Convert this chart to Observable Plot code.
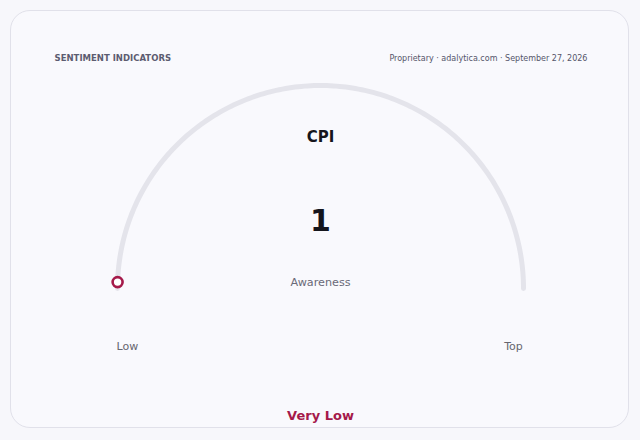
<!DOCTYPE html>
<html>
<head>
<meta charset="utf-8">
<script src="https://cdn.jsdelivr.net/npm/d3@7"></script>
<script src="https://cdn.jsdelivr.net/npm/@observablehq/plot@0.6"></script>
<style>
  html, body { margin: 0; padding: 0; background: #f7f7fb; }
  body { width: 640px; height: 440px; position: relative; overflow: hidden; font-family: "DejaVu Sans", sans-serif; }
  #card { position: absolute; left: 10px; top: 10px; width: 619px; height: 418px; box-sizing: border-box;
          border: 1px solid #e1e1ea; border-radius: 20px; background: #f9f9fd; }
  #chart { position: absolute; left: 0; top: 0; }
</style>
</head>
<body>
<div id="card"></div>
<div id="chart"></div>
<script>
// ---- data ----
const headerLeft = "SENTIMENT INDICATORS";
const headerRight = "Proprietary · adalytica.com · September 27, 2026";
const gaugeTitle = "CPI";
const gaugeValue = 1;
const gaugeDomain = [0, 100];
const gaugeSubLabel = "Awareness";
const endLabels = ["Low", "Top"];
const bandLabel = "Very Low";

// ---- geometry helpers (value -> angle on a half circle) ----
const angle = d3.scaleLinear().domain(gaugeDomain).range([Math.PI, 0]);
const pt = v => ({x: Math.cos(angle(v)), y: Math.sin(angle(v))});
const track = d3.range(gaugeDomain[0], gaugeDomain[1] + 0.001, (gaugeDomain[1] - gaugeDomain[0]) / 200).map(pt);
const marker = [pt(gaugeValue)];
const ends = [{x: -0.951, label: endLabels[0]}, {x: 0.951, label: endLabels[1]}];

const crimson = "#a51a4a";
const R = 203;

const chart = Plot.plot({
  width: 640,
  height: 440,
  margin: 0,
  style: {background: "transparent", fontFamily: "DejaVu Sans, sans-serif", overflow: "visible"},
  x: {domain: [-320 / R, 320 / R], range: [0, 640], axis: null},
  y: {domain: [-152 / R, 288 / R], range: [440, 0], axis: null},
  marks: [
    Plot.line(track, {x: "x", y: "y", stroke: "#e4e4eb", strokeWidth: 5, strokeLinecap: "round", curve: "linear"}),
    Plot.dot(marker, {x: "x", y: "y", r: 5, stroke: crimson, strokeWidth: 2.6, fill: "#ffffff"}),
    Plot.text([headerLeft], {x: -1.31, y: 1.133, text: d => d, textAnchor: "start", fontSize: 8.5, fontWeight: "bold", fill: "#5c5c70"}),
    Plot.text([headerRight], {x: 1.315, y: 1.133, text: d => d, textAnchor: "end", fontSize: 8, fill: "#55556a"}),
    Plot.text([gaugeTitle], {x: 0, y: 0.744, text: d => d, fontSize: 15, fontWeight: "bold", fill: "#15151c"}),
    Plot.text([gaugeValue], {x: 0, y: 0.33, text: d => String(d), fontSize: 30, fontWeight: "bold", fill: "#15151c"}),
    Plot.text([gaugeSubLabel], {x: 0, y: 0.0296, text: d => d, fontSize: 11.2, fill: "#6a6a78"}),
    Plot.text(ends, {x: "x", y: -0.286, text: "label", fontSize: 11, fill: "#66666f"}),
    Plot.text([bandLabel], {x: 0, y: -0.626, text: d => d, fontSize: 13, fontWeight: "bold", fill: crimson})
  ]
});
document.getElementById("chart").appendChild(chart);
</script>
</body>
</html>
